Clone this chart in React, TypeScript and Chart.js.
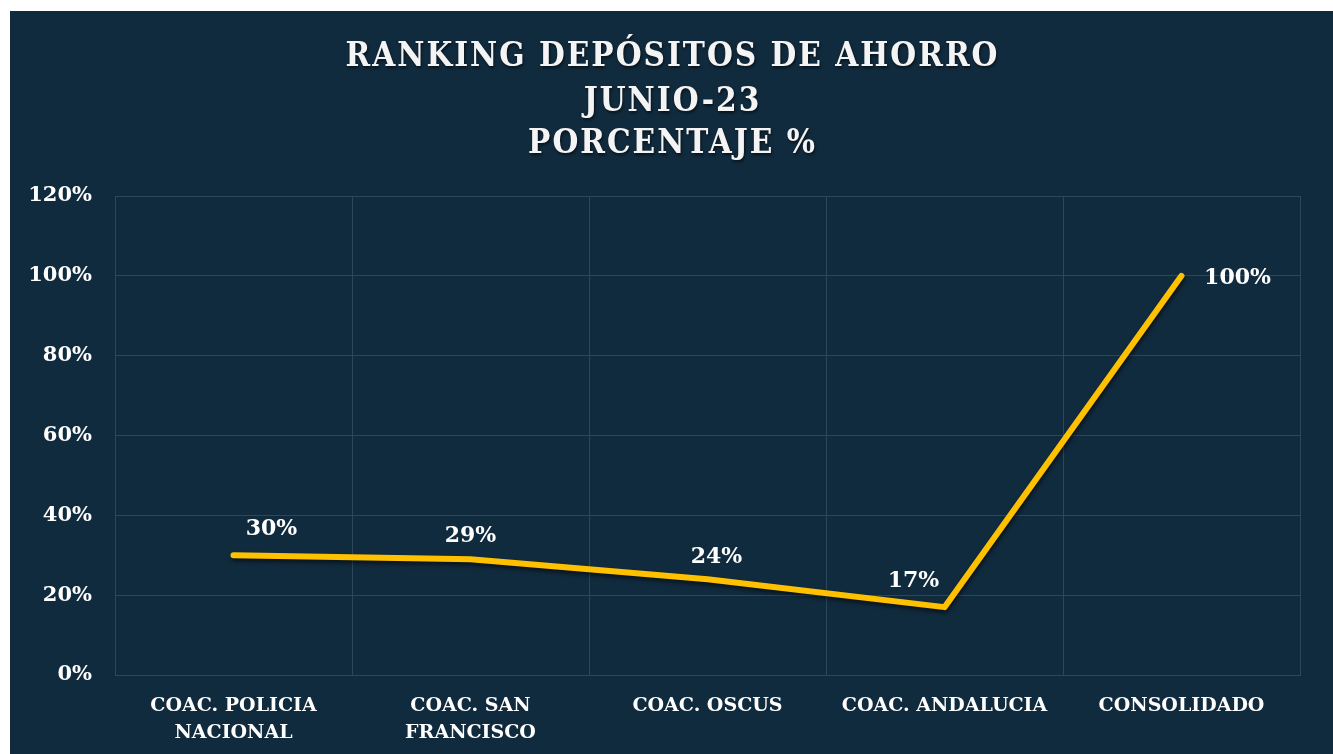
import React, { useEffect, useRef } from "react";
import { Chart, registerables } from "chart.js";

Chart.register(...registerables);

const titleLines = ["RANKING DEPÓSITOS DE AHORRO", "JUNIO-23", "PORCENTAJE %"];
const categories: string[][] = [
  ["COAC. POLICIA", "NACIONAL"],
  ["COAC. SAN", "FRANCISCO"],
  ["COAC. OSCUS"],
  ["COAC. ANDALUCIA"],
  ["CONSOLIDADO"],
];
const values = [0.3, 0.29, 0.24, 0.17, 1.0];
const valueLabels = ["30%", "29%", "24%", "17%", "100%"];
const yTickMax = 1.2;
const yTickStep = 0.2;

const BG = "#112b3e";
const GRID = "#2c475b";
const LINE = "#FFC000";
const FONT = "'DejaVu Serif', 'Liberation Serif', serif";

const labelOffsets = [
  { dx: 38, dy: -26 },
  { dx: 0, dy: -23 },
  { dx: 9, dy: -22 },
  { dx: -31, dy: -26 },
  { dx: 56, dy: 2 },
];

const bgPlugin = {
  id: "bgFill",
  beforeDraw(chart: any) {
    const { ctx } = chart;
    ctx.save();
    ctx.fillStyle = BG;
    ctx.fillRect(0, 0, chart.width, chart.height);
    ctx.restore();
  },
};

const titlePlugin = {
  id: "spacedTitle",
  afterDraw(chart: any) {
    const { ctx } = chart;
    ctx.save();
    ctx.font = `bold 33px 'DejaVu Serif Condensed', 'Liberation Serif', serif`;
    (ctx as any).letterSpacing = "2px";
    ctx.textAlign = "center";
    ctx.textBaseline = "middle";
    ctx.fillStyle = "#f4f4f4";
    ctx.shadowColor = "rgba(0,0,0,0.6)";
    ctx.shadowBlur = 3;
    ctx.shadowOffsetX = 1;
    ctx.shadowOffsetY = 2;
    const ys = [46, 91, 133];
    titleLines.forEach((t, i) => {
      ctx.fillText(t, chart.width / 2 + 1, ys[i]);
    });
    ctx.restore();
  },
};

const shadowPlugin = {
  id: "lineShadow",
  beforeDatasetDraw(chart: any) {
    const { ctx } = chart;
    ctx.save();
    ctx.shadowColor = "rgba(0,0,0,0.55)";
    ctx.shadowBlur = 4;
    ctx.shadowOffsetX = 1;
    ctx.shadowOffsetY = 3;
  },
  afterDatasetDraw(chart: any) {
    chart.ctx.restore();
  },
};

const labelPlugin = {
  id: "valueLabels",
  afterDatasetsDraw(chart: any) {
    const { ctx } = chart;
    const meta = chart.getDatasetMeta(0);
    ctx.save();
    ctx.font = `bold 22px ${FONT}`;
    ctx.fillStyle = "#ffffff";
    ctx.textAlign = "center";
    ctx.textBaseline = "middle";
    meta.data.forEach((pt: any, i: number) => {
      const o = labelOffsets[i];
      ctx.fillText(valueLabels[i], pt.x + o.dx, pt.y + o.dy);
    });
    ctx.restore();
  },
};

export default function App() {
  const ref = useRef<HTMLCanvasElement>(null);
  useEffect(() => {
    if (!ref.current) return;
    const chart = new Chart(ref.current, {
      type: "line",
      data: {
        labels: categories,
        datasets: [
          {
            data: values,
            borderColor: LINE,
            borderWidth: 6,
            borderCapStyle: "round",
            borderJoinStyle: "round",
            pointRadius: 0,
            tension: 0,
            fill: false,
          },
        ],
      },
      options: {
        animation: false,
        responsive: true,
        maintainAspectRatio: false,
        layout: { padding: { top: 185, right: 33, left: 0, bottom: 0 } },
        plugins: {
          legend: { display: false },
          title: { display: false },
          tooltip: { enabled: false },
        },
        scales: {
          x: {
            offset: true,
            grid: { color: GRID, lineWidth: 1, offset: true, drawTicks: false },
            border: { color: GRID },
            ticks: {
              color: "#ffffff",
              font: { family: FONT, weight: "bold", size: 19, lineHeight: 1.45 },
              padding: 17,
              maxRotation: 0,
              autoSkip: false,
            },
            afterFit(scale: any) {
              scale.height = 79;
            },
          },
          y: {
            min: 0,
            max: yTickMax,
            grid: { color: GRID, lineWidth: 1, drawTicks: false },
            border: { color: GRID },
            ticks: {
              stepSize: yTickStep,
              color: "#ffffff",
              font: { family: FONT, weight: "bold", size: 21 },
              padding: 23,
              callback: (v: any) => `${Math.round(Number(v) * 100)}%`,
            },
            afterFit(scale: any) {
              scale.width = 105;
            },
          },
        },
      },
      plugins: [bgPlugin, shadowPlugin, labelPlugin, titlePlugin],
    } as any);
    return () => chart.destroy();
  }, []);
  return (
    <div
      style={{
        position: "fixed",
        left: 10,
        top: 11,
        right: 0,
        bottom: 0,
        background: BG,
      }}
    >
      <canvas ref={ref} />
    </div>
  );
}
